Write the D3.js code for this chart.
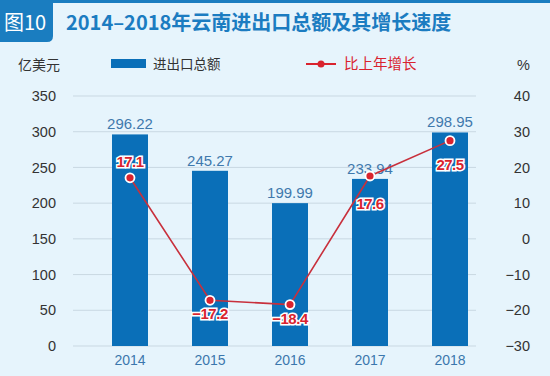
<!DOCTYPE html>
<html>
<head>
<meta charset="utf-8">
<script src="https://cdn.jsdelivr.net/npm/d3@7"></script>
<style>
  body { margin: 0; background: #e6f4fc; }
  svg { display: block; }
  text { font-family: "Liberation Sans", Arial, "Noto Sans CJK SC", sans-serif; }
  .cjk { font-family: "Noto Sans CJK SC", sans-serif; }
</style>
</head>
<body>
<div id="chart"></div>
<script>
// data
var years = ["2014", "2015", "2016", "2017", "2018"];
var totals = [296.22, 245.27, 199.99, 233.94, 298.95];
var growth = [17.1, -17.2, -18.4, 17.6, 27.5];
var leftTicks = [0, 50, 100, 150, 200, 250, 300, 350];
var rightTicks = [-30, -20, -10, 0, 10, 20, 30, 40];

var W = 550, H = 376;
var blue = "#0a6fb8", red = "#d9232e";

var svg = d3.select("#chart").append("svg")
    .attr("width", W).attr("height", H);

svg.append("rect").attr("width", W).attr("height", H).attr("fill", "#e6f4fc");

// header
svg.append("rect").attr("x", 0).attr("y", 0).attr("width", W).attr("height", 3).attr("fill", "#1a7dc0");
svg.append("path")
    .attr("d", "M0,0H53V36Q53,42 47,42H0Z")
    .attr("fill", "#1a7dc0");
svg.append("text").attr("class", "cjk")
    .attr("x", 4).attr("y", 30)
    .attr("fill", "#fff").attr("font-size", 20)
    .text("图10");
svg.append("text").attr("class", "cjk")
    .attr("x", 66).attr("y", 30)
    .attr("fill", "#1b7cc1").attr("font-size", 20).attr("font-weight", "bold")
    .text("2014–2018年云南进出口总额及其增长速度");

// scales
var x = d3.scaleBand().domain(years).range([90, 490]).paddingInner(0.55).paddingOuter(0.275);
var yL = d3.scaleLinear().domain([0, 350]).range([346, 96]);
var yR = d3.scaleLinear().domain([-30, 40]).range([346, 96]);

// gridlines
svg.append("g").selectAll("line").data(leftTicks).enter().append("line")
    .attr("x1", 73).attr("x2", 476)
    .attr("y1", function(d) { return yL(d); })
    .attr("y2", function(d) { return yL(d); })
    .attr("stroke", "#c9d8e2").attr("stroke-width", 1);

// left axis
var axL = svg.append("g").attr("transform", "translate(56,0)")
    .call(d3.axisLeft(yL).tickValues(leftTicks).tickSize(0).tickPadding(0));
axL.select(".domain").remove();
axL.selectAll("text").attr("font-size", 14.5).attr("fill", "#333")
    .style("font-family", "'Liberation Sans', Arial, sans-serif");

// right axis
var axR = svg.append("g").attr("transform", "translate(530,0)")
    .call(d3.axisLeft(yR).tickValues(rightTicks).tickSize(0).tickPadding(0)
      .tickFormat(function(d) { return d < 0 ? "\u2212" + Math.abs(d) : d; }));
axR.select(".domain").remove();
axR.selectAll("text").attr("font-size", 14.5).attr("fill", "#333")
    .style("font-family", "'Liberation Sans', Arial, sans-serif");

// x axis labels
var axX = svg.append("g").attr("transform", "translate(0,346)")
    .call(d3.axisBottom(x).tickSize(0).tickPadding(9));
axX.select(".domain").remove();
axX.selectAll("text").attr("font-size", 14).attr("fill", "#3b77ad")
    .style("font-family", "'Liberation Sans', Arial, sans-serif");

// unit labels
svg.append("text").attr("class", "cjk").attr("x", 18).attr("y", 70)
    .attr("font-size", 14).attr("fill", "#333").text("亿美元");
svg.append("text").attr("x", 530).attr("y", 70).attr("text-anchor", "end")
    .attr("font-size", 14.5).attr("fill", "#333").text("%");

// legend
svg.append("rect").attr("x", 111).attr("y", 59).attr("width", 35).attr("height", 9).attr("fill", blue);
svg.append("text").attr("class", "cjk").attr("x", 153).attr("y", 69)
    .attr("font-size", 13.5).attr("fill", "#333").text("进出口总额");
svg.append("line").attr("x1", 306).attr("x2", 336).attr("y1", 64).attr("y2", 64)
    .attr("stroke", red).attr("stroke-width", 2);
svg.append("circle").attr("cx", 321).attr("cy", 64).attr("r", 3.5).attr("fill", red);
svg.append("text").attr("class", "cjk").attr("x", 344).attr("y", 69)
    .attr("font-size", 14.5).attr("fill", red).text("比上年增长");

// bars
svg.append("g").selectAll("rect").data(years).enter().append("rect")
    .attr("x", function(d) { return x(d); })
    .attr("width", x.bandwidth())
    .attr("y", function(d, i) { return yL(totals[i]); })
    .attr("height", function(d, i) { return yL(0) - yL(totals[i]); })
    .attr("fill", blue);

svg.append("g").selectAll("text").data(years).enter().append("text")
    .attr("x", function(d) { return x(d) + x.bandwidth() / 2; })
    .attr("y", function(d, i) { return yL(totals[i]) - 5; })
    .attr("text-anchor", "middle")
    .attr("font-size", 15).attr("fill", "#3f79ad")
    .text(function(d, i) { return totals[i].toFixed(2); });

// growth line
var cx = function(d, i) { return x(years[i]) + x.bandwidth() / 2; };
var line = d3.line()
    .x(function(d, i) { return cx(d, i); })
    .y(function(d) { return yR(d); });

svg.append("path").datum(growth)
    .attr("d", line)
    .attr("fill", "none")
    .attr("stroke", "#c8303c").attr("stroke-width", 1.6);

svg.append("g").selectAll("circle").data(growth).enter().append("circle")
    .attr("cx", cx)
    .attr("cy", function(d) { return yR(d); })
    .attr("r", 4.5)
    .attr("fill", red).attr("stroke", "#fff").attr("stroke-width", 1.8);

// label offsets from each point (layout, not data)
var labelDy = [-11, 19, 19, 33, 29];
svg.append("g").selectAll("text").data(growth).enter().append("text")
    .attr("x", cx)
    .attr("y", function(d, i) { return yR(d) + labelDy[i]; })
    .attr("text-anchor", "middle")
    .attr("font-size", 15).attr("font-weight", "bold")
    .attr("fill", red).attr("stroke", "#fff").attr("stroke-width", 3)
    .attr("paint-order", "stroke")
    .attr("letter-spacing", -0.5)
    .text(function(d) { return d < 0 ? "\u2212" + Math.abs(d).toFixed(1) : d.toFixed(1); });
</script>
</body>
</html>
